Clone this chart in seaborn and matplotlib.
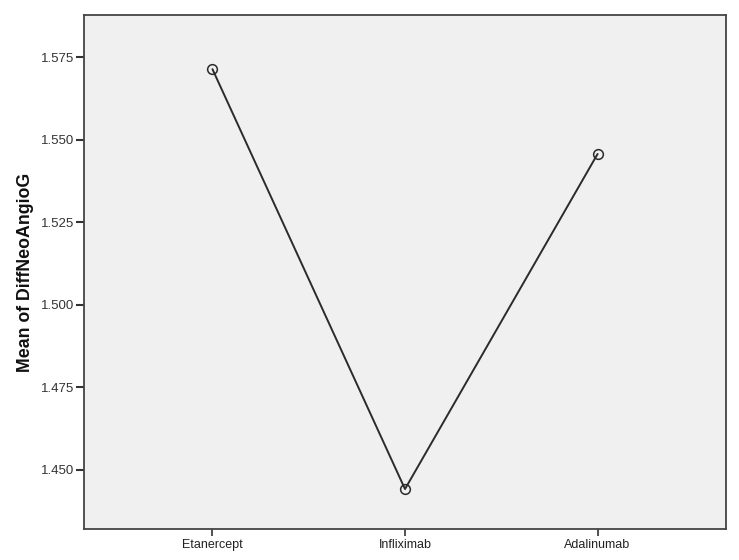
import matplotlib
matplotlib.use("Agg")
import matplotlib.pyplot as plt
import seaborn as sns
import pandas as pd

categories = ["Etanercept", "Infliximab", "Adalinumab"]
means = [1.5714, 1.4442, 1.5457]
y_ticks = [1.450, 1.475, 1.500, 1.525, 1.550, 1.575]
y_label = "Mean of DiffNeoAngioG"

df = pd.DataFrame({"group": categories, "mean": means})

sns.set_style("white")
plt.rcParams["font.family"] = ["Liberation Sans", "DejaVu Sans"]

fig = plt.figure(figsize=(7.39, 5.6), dpi=100)
ax = fig.add_axes([84/739, 1 - 529/560, (726 - 84)/739, (529 - 15)/560])
ax.set_facecolor("#f0f0f0")

sns.pointplot(data=df, x="group", y="mean", order=categories, errorbar=None,
              color="#2b2b2b", markers="o", linestyles="-", ax=ax,
              markerfacecolor="none", markeredgecolor="#2b2b2b",
              markersize=7, markeredgewidth=1.1, linewidth=1.4)

ax.set_xlim(-0.667, 2.667)
ax.set_ylim(1.4321, 1.5878)
ax.set_yticks(y_ticks)
ax.set_yticklabels([f"{t:.3f}" for t in y_ticks], fontsize=9.5, color="#333333")
ax.set_xticks(range(len(categories)))
ax.set_xticklabels(categories, fontsize=9, color="#222222")
ax.set_xlabel("")
ax.set_ylabel(y_label, fontsize=12.8, fontweight="bold", color="#111111", labelpad=5)

for s in ax.spines.values():
    s.set_visible(True)
    s.set_color("#444444")
    s.set_linewidth(1.3)

ax.tick_params(axis="y", direction="out", length=6, width=1.5, color="#333333", left=True, pad=1)
ax.tick_params(axis="x", direction="out", length=5, width=1.2, color="#333333", bottom=True, pad=2)
ax.grid(False)

fig.savefig("out.png", dpi=100)
